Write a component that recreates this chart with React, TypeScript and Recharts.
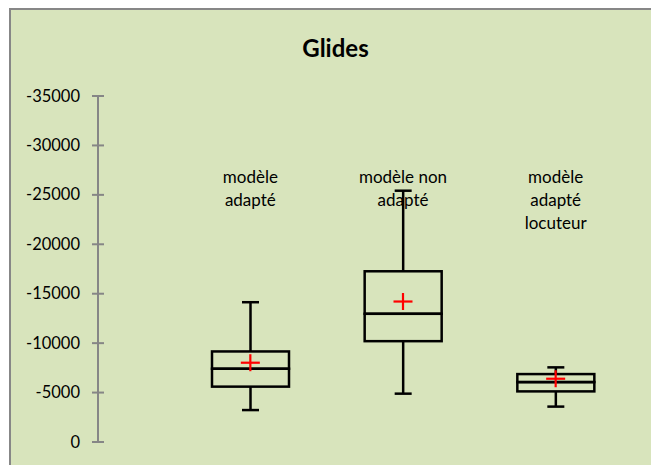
import React from "react"
import { ComposedChart, Bar, Scatter, XAxis, YAxis } from "recharts"

// box plot values (negative, axis reversed like the original sheet)
const categories = ["modèle\nadapté", "modèle non\nadapté", "modèle\nadapté\nlocuteur"]
const minValues = [-3230, -4890, -3580]
const q1Values = [-5600, -10200, -5120]
const medianValues = [-7410, -12970, -6060]
const q3Values = [-9160, -17270, -6870]
const maxValues = [-14140, -25420, -7550]
const meanValues = [-8020, -14210, -6400]
const yTicks = [-35000, -30000, -25000, -20000, -15000, -10000, -5000, 0]

const LABEL_AT = -26800
const FONT = "Lato, 'DejaVu Sans', sans-serif"

// stacked segments, the way a spreadsheet builds a box plot
const rows = categories.map((name, i) => ({
  name,
  base: minValues[i],
  lowWhisker: q1Values[i] - minValues[i],
  lowBox: medianValues[i] - q1Values[i],
  highBox: q3Values[i] - medianValues[i],
  highWhisker: maxValues[i] - q3Values[i],
  mean: meanValues[i],
}))

const norm = (p: any) => {
  const top = Math.min(p.y, p.y + p.height)
  const h = Math.abs(p.height)
  return { top, h, cx: p.x + p.width / 2 }
}

const Whisker = (p: any, capAtTop: boolean) => {
  const { top, h, cx } = norm(p)
  const capY = capAtTop ? top : top + h
  return (
    <g>
      <line x1={cx} x2={cx} y1={top} y2={top + h} stroke="#000" strokeWidth={2.5} />
      <line x1={cx - 8.5} x2={cx + 8.5} y1={capY} y2={capY} stroke="#000" strokeWidth={2.5} />
    </g>
  )
}

const BoxPart = (p: any) => {
  const { top, h } = norm(p)
  return <rect x={p.x} y={top} width={p.width} height={h} fill="none" stroke="#000" strokeWidth={2.5} />
}

const MeanCross = (p: any) => (
  <g>
    <line x1={p.cx - 9.5} x2={p.cx + 9.5} y1={p.cy} y2={p.cy} stroke="#ff0000" strokeWidth={2.2} />
    <line x1={p.cx} x2={p.cx} y1={p.cy - 8.5} y2={p.cy + 8.5} stroke="#ff0000" strokeWidth={2.2} />
  </g>
)

const CategoryLabel = (p: any) => {
  const lines = String(p.payload.name).split("\n")
  return (
    <text x={p.cx} y={p.cy} textAnchor="middle" fontFamily={FONT} fontSize={17} fill="#000">
      {lines.map((l, i) => (
        <tspan key={i} x={p.cx} dy={i === 0 ? 5.5 : 23}>
          {l}
        </tspan>
      ))}
    </text>
  )
}

const YTick = (p: any) => (
  <g>
    <line x1={p.x - 6} x2={p.x + 6} y1={p.y} y2={p.y} stroke="#868686" strokeWidth={2} />
    <text x={p.x - 18} y={p.y + 5.5} textAnchor="end" fontFamily={FONT} fontSize={16.5} fill="#000">
      {p.payload.value}
    </text>
  </g>
)

export default function App() {
  return (
    <div style={{ position: "relative", width: 651, height: 465, overflow: "hidden", background: "#fff" }}>
      <style>{`body{margin:0;overflow:hidden}`}</style>
      <div
        style={{
          position: "absolute",
          left: 9,
          top: 8,
          width: 700,
          height: 500,
          background: "#d8e4bc",
          borderLeft: "2px solid #878787",
          borderTop: "2px solid #878787",
        }}
      />
      <div
        style={{
          position: "absolute",
          left: 0,
          top: 36,
          width: 651,
          textAlign: "center",
          fontFamily: FONT,
          fontWeight: 700,
          fontSize: 24,
          lineHeight: "24px",
          paddingLeft: 20,
          boxSizing: "border-box",
        }}
      >
        Glides
      </div>
      <div style={{ position: "absolute", left: 0, top: 0 }}>
        <ComposedChart width={651} height={465} data={rows} margin={{ top: 96, right: 19, bottom: 23, left: 0 }}>
          <XAxis dataKey="name" hide padding={{ left: 76, right: 0 }} />
          <YAxis
            reversed
            domain={[-35000, 0]}
            ticks={yTicks}
            allowDataOverflow
            width={98}
            tickSize={0}
            tickMargin={0}
            axisLine={{ stroke: "#868686", strokeWidth: 2 }}
            tickLine={false}
            tick={YTick}
          />
          <Bar dataKey="base" stackId="box" fill="none" barSize={77} isAnimationActive={false} />
          <Bar dataKey="lowWhisker" stackId="box" barSize={77} shape={(p: any) => Whisker(p, false)} isAnimationActive={false} />
          <Bar dataKey="lowBox" stackId="box" barSize={77} shape={BoxPart} isAnimationActive={false} />
          <Bar dataKey="highBox" stackId="box" barSize={77} shape={BoxPart} isAnimationActive={false} />
          <Bar dataKey="highWhisker" stackId="box" barSize={77} shape={(p: any) => Whisker(p, true)} isAnimationActive={false} />
          <Scatter dataKey="mean" shape={MeanCross} isAnimationActive={false} />
          <Scatter dataKey={() => LABEL_AT} shape={CategoryLabel} isAnimationActive={false} />
        </ComposedChart>
      </div>
    </div>
  )
}
